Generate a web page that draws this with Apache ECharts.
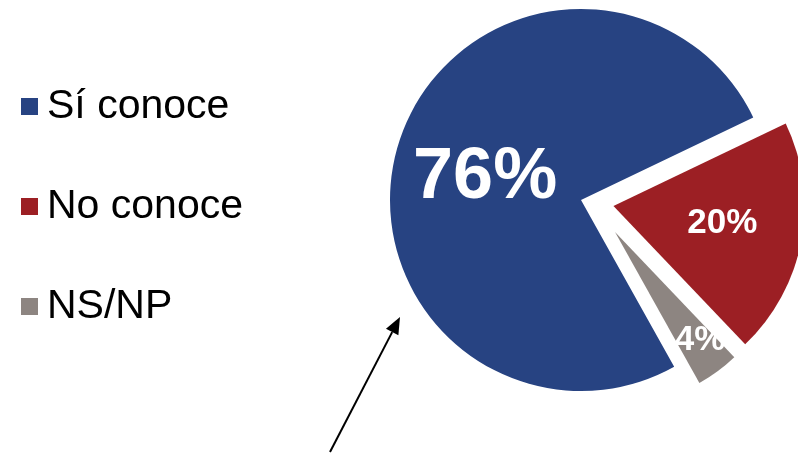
<!DOCTYPE html>
<html>
<head>
<meta charset="utf-8">
<script src="https://cdn.jsdelivr.net/npm/echarts@6/dist/echarts.min.js"></script>
<style>
html, body { margin: 0; padding: 0; background: #fff; }
#pie-pic { width: 798px; height: 455px; }
</style>
</head>
<body>
<div id="pie-pic"></div>
<script>
// datos
const categories = ['Sí conoce', 'No conoce', 'NS/NP']
const values = [76, 20, 4]
const colors = ['#274382', '#9C1F24', '#8D8581']
const total = values.reduce((a, b) => a + b, 0)

const myChart = echarts.init(document.getElementById('pie-pic'))

// flecha
const tail = [330, 452]
const tip = [400, 317]
const ang = Math.atan2(tip[1] - tail[1], tip[0] - tail[0])
const headLen = 17
const headW = 7
const base = [tip[0] - headLen * Math.cos(ang), tip[1] - headLen * Math.sin(ang)]
const head = [
  tip,
  [base[0] + headW * Math.sin(ang), base[1] - headW * Math.cos(ang)],
  [base[0] - headW * Math.sin(ang), base[1] + headW * Math.cos(ang)]
]

const startAngle = 299.2
const hidden = { itemStyle: { color: 'rgba(0,0,0,0)' }, label: { show: false } }
const labelFont = {
  position: 'inner',
  formatter: '{c}%',
  color: '#fff',
  fontFamily: 'Liberation Sans, Arial, sans-serif',
  fontWeight: 'bold',
  fontSize: 35
}

const option = {
  animation: false,
  legend: {
    orient: 'vertical',
    left: 16,
    top: 81,
    icon: 'rect',
    itemWidth: 17,
    itemHeight: 17,
    itemGap: 59,
    selectedMode: false,
    textStyle: {
      fontFamily: 'Liberation Sans, Arial, sans-serif',
      fontSize: 41,
      color: '#000',
      padding: [0, 0, 0, 4]
    },
    data: categories
  },
  graphic: [
    {
      type: 'line',
      shape: { x1: tail[0], y1: tail[1], x2: base[0], y2: base[1] },
      style: { stroke: '#000', lineWidth: 2 }
    },
    {
      type: 'polygon',
      shape: { points: head },
      style: { fill: '#000' }
    }
  ],
  series: [
    // porción NS/NP, separada y algo más pequeña
    {
      type: 'pie',
      center: [615, 232],
      radius: 173,
      startAngle: startAngle - (values[0] + values[1]) / total * 360,
      clockwise: true,
      silent: true,
      emphasis: { disabled: true },
      label: labelFont,
      labelLine: { show: false },
      labelLayout: { dx: 32, dy: 36 },
      data: [
        { name: categories[2], value: values[2], itemStyle: { color: colors[2] } },
        Object.assign({ name: '_resto', value: values[0] + values[1] }, hidden)
      ]
    },
    {
      type: 'pie',
      center: [581, 200],
      radius: 191,
      startAngle: startAngle,
      clockwise: true,
      silent: true,
      selectedMode: 'multiple',
      selectedOffset: 33,
      emphasis: { disabled: true },
      label: labelFont,
      labelLine: { show: false },
      labelLayout: function (params) {
        return params.dataIndex === 0 ? { dx: -2, dy: 8 } : { dx: 12, dy: 0 }
      },
      data: [
        { name: categories[0], value: values[0], itemStyle: { color: colors[0] }, label: { fontSize: 72 } },
        { name: categories[1], value: values[1], itemStyle: { color: colors[1] }, selected: true },
        Object.assign({ name: '_ns', value: values[2] }, hidden)
      ]
    }
  ]
}

myChart.setOption(option)
</script>
</body>
</html>
